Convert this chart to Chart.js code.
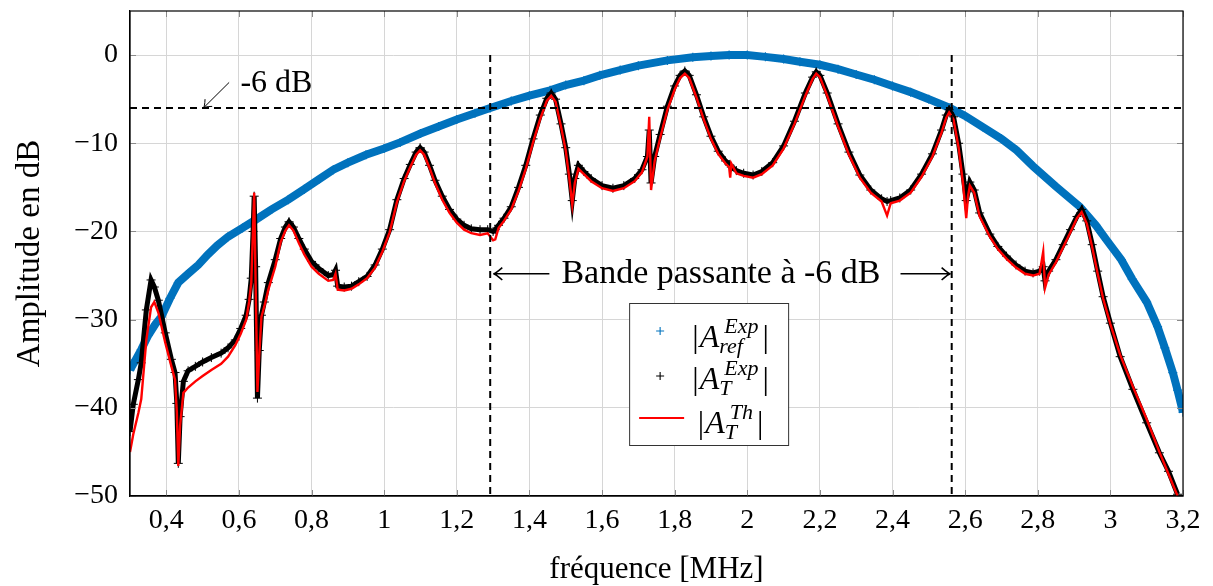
<!DOCTYPE html>
<html>
<head>
<meta charset="utf-8">
<script src="https://cdn.jsdelivr.net/npm/chart.js@4"></script>
<style>
  html, body { margin: 0; padding: 0; background: #fff; }
  canvas { display: block; }
</style>
</head>
<body>
<canvas id="ampChart" width="1213" height="586"></canvas>
<script>
// reference transducer |A_ref^Exp| (blue crosses)
const refFreq = [0.300, 0.315, 0.331, 0.350, 0.370, 0.386, 0.410, 0.433, 0.460, 0.488,
  0.515, 0.540, 0.570, 0.610, 0.645, 0.690, 0.736, 0.780, 0.820, 0.860,
  0.900, 0.950, 1.000, 1.044, 1.100, 1.150, 1.200, 1.250, 1.292, 1.350,
  1.400, 1.457, 1.500, 1.550, 1.594, 1.650, 1.700, 1.780, 1.850, 1.900,
  1.950, 2.000, 2.050, 2.100, 2.145, 2.200, 2.250, 2.300, 2.350, 2.400,
  2.450, 2.500, 2.558, 2.600, 2.650, 2.700, 2.742, 2.787, 2.850, 2.916,
  2.960, 2.990, 3.030, 3.060, 3.100, 3.130, 3.150, 3.172, 3.185, 3.200];
const refAmp = [-35.7, -34.6, -33.4, -31.8, -30.5, -29.7, -27.6, -25.8, -24.8, -23.8,
  -22.6, -21.6, -20.6, -19.6, -18.7, -17.5, -16.4, -15.2, -14.1, -13.0,
  -12.2, -11.3, -10.6, -9.9, -8.9, -8.1, -7.3, -6.6, -6.0, -5.2,
  -4.6, -4.0, -3.4, -2.9, -2.3, -1.7, -1.2, -0.6, -0.25, -0.1,
  0.0, 0.0, -0.2, -0.45, -0.75, -1.1, -1.6, -2.2, -2.8, -3.5,
  -4.2, -5.0, -6.0, -6.9, -8.2, -9.5, -10.8, -12.6, -14.9, -17.2,
  -19.3, -21.0, -23.2, -25.4, -28.0, -30.8, -33.2, -36.0, -38.0, -40.5];

// transmission |A_T^Exp| (black crosses) and |A_T^Th| (red line)
const tFreq = [0.300, 0.309, 0.323, 0.331, 0.345, 0.358, 0.367, 0.378, 0.397, 0.414,
  0.424, 0.429, 0.433, 0.438, 0.447, 0.460, 0.480, 0.500, 0.524, 0.551,
  0.570, 0.590, 0.605, 0.620, 0.628, 0.634, 0.639, 0.642, 0.646, 0.651,
  0.656, 0.662, 0.670, 0.681, 0.700, 0.715, 0.728, 0.738, 0.750, 0.765,
  0.780, 0.800, 0.820, 0.846, 0.860, 0.866, 0.872, 0.890, 0.910, 0.930,
  0.953, 0.975, 0.995, 1.015, 1.035, 1.055, 1.072, 1.088, 1.099, 1.110,
  1.125, 1.140, 1.160, 1.180, 1.200, 1.220, 1.240, 1.264, 1.285, 1.300,
  1.306, 1.315, 1.330, 1.350, 1.370, 1.390, 1.410, 1.430, 1.448, 1.460,
  1.472, 1.487, 1.500, 1.510, 1.518, 1.525, 1.535, 1.550, 1.570, 1.600,
  1.630, 1.660, 1.690, 1.710, 1.725, 1.730, 1.735, 1.745, 1.760, 1.780,
  1.800, 1.815, 1.828, 1.840, 1.860, 1.880, 1.900, 1.920, 1.940, 1.950,
  1.953, 1.956, 1.970, 1.990, 2.016, 2.040, 2.070, 2.100, 2.130, 2.160,
  2.180, 2.190, 2.200, 2.220, 2.250, 2.280, 2.310, 2.340, 2.370, 2.385,
  2.395, 2.420, 2.450, 2.480, 2.510, 2.535, 2.548, 2.556, 2.568, 2.582,
  2.594, 2.603, 2.608, 2.613, 2.625, 2.640, 2.668, 2.690, 2.714, 2.740,
  2.765, 2.787, 2.805, 2.815, 2.820, 2.830, 2.850, 2.870, 2.890, 2.908,
  2.921, 2.935, 2.950, 2.965, 2.980, 3.000, 3.027, 3.062, 3.100, 3.135,
  3.160, 3.185];
const expAmp = [-42.7, -39.6, -36.8, -34.9, -28.9, -25.5, -26.3, -27.8, -31.5, -34.5,
  -36.0, -39.5, -46.3, -41.0, -37.0, -35.8, -35.3, -34.8, -34.3, -33.8,
  -33.2, -32.3, -31.0, -29.5, -27.7, -25.3, -20.0, -16.0, -24.0, -38.9,
  -33.5, -29.5, -28.0, -25.8, -23.2, -20.8, -19.5, -18.9, -19.5, -20.8,
  -22.0, -23.4, -24.2, -25.0, -24.9, -24.4, -26.2, -26.3, -26.2, -25.7,
  -25.1, -23.8, -22.0, -19.8, -16.4, -14.0, -12.4, -11.0, -10.5, -11.0,
  -12.5, -14.2, -16.0, -17.5, -18.6, -19.3, -19.7, -19.8, -19.8, -20.0,
  -19.8, -19.3, -18.5, -17.2, -15.0, -12.5, -9.5, -6.8, -4.9, -4.3,
  -5.0, -7.8, -10.5, -13.5, -16.5, -14.0, -12.5, -13.2, -14.0, -14.8,
  -15.1, -14.8, -14.0, -13.0, -11.5, -8.5, -14.5, -11.5, -9.0, -5.8,
  -3.5, -2.3, -1.8, -2.3, -4.5, -7.0, -9.2, -10.9, -12.0, -12.4,
  -12.5, -12.7, -13.1, -13.4, -13.6, -13.2, -12.2, -10.3, -7.5, -4.3,
  -2.5, -1.9, -2.3, -4.3, -7.8, -11.0, -13.6, -15.3, -16.3, -16.6,
  -16.5, -16.2, -15.3, -13.5, -11.2, -8.5, -6.8, -6.2, -7.0, -10.0,
  -13.5, -16.5, -15.5, -14.4, -15.3, -17.9, -20.3, -21.7, -22.8, -23.8,
  -24.5, -24.7, -24.5, -24.0, -25.6, -24.5, -23.2, -21.5, -19.8, -18.3,
  -17.5, -18.8, -21.5, -24.5, -27.4, -30.4, -34.2, -37.9, -41.7, -45.1,
  -47.2, -49.8];
const thAmp = [-45.0, -43.0, -40.6, -39.0, -32.3, -28.6, -28.0, -29.2, -32.6, -35.3,
  -36.8, -40.5, -46.6, -42.0, -38.3, -37.7, -37.0, -36.4, -35.7, -35.0,
  -34.2, -32.9, -31.6, -30.0, -28.0, -25.8, -19.5, -15.6, -26.0, -38.2,
  -34.0, -29.7, -28.5, -26.6, -24.0, -21.2, -19.9, -19.3, -19.9, -21.3,
  -22.6, -24.0, -24.8, -25.6, -25.5, -24.8, -26.6, -26.7, -26.5, -26.0,
  -25.3, -24.1, -22.3, -20.1, -16.7, -14.3, -12.7, -11.3, -10.8, -11.3,
  -12.8, -14.5, -16.4, -17.9, -19.0, -19.8, -20.2, -20.4, -20.2, -21.0,
  -20.9, -19.6, -18.8, -17.5, -15.4, -12.9, -9.9, -7.2, -5.2, -4.6,
  -5.3, -8.1, -10.8, -14.0, -17.0, -14.5, -12.9, -13.5, -14.3, -15.1,
  -15.4, -15.1, -14.3, -13.3, -11.5, -7.0, -15.3, -12.0, -9.4, -6.2,
  -3.9, -2.6, -2.1, -2.6, -4.8, -7.3, -9.5, -11.2, -12.3, -12.7,
  -13.9, -12.3, -13.4, -13.7, -13.9, -13.5, -12.5, -10.6, -7.8, -4.6,
  -2.7, -2.1, -2.5, -4.6, -8.1, -11.3, -13.9, -15.6, -16.6, -18.2,
  -16.8, -16.5, -15.6, -13.8, -11.5, -8.8, -7.1, -6.5, -7.3, -10.5,
  -14.5, -18.5, -16.0, -14.8, -15.6, -18.3, -20.6, -22.0, -23.1, -24.1,
  -24.8, -25.0, -24.8, -22.3, -26.4, -24.9, -23.5, -21.8, -20.1, -18.5,
  -17.8, -19.1, -21.8, -24.8, -27.6, -30.5, -34.0, -37.6, -41.3, -45.0,
  -47.5, -50.0];

// -6 dB level and the two band edges
const level = -6;
const bandEdges = [1.292, 2.563];

const xTicks = [0.4, 0.6, 0.8, 1, 1.2, 1.4, 1.6, 1.8, 2, 2.2, 2.4, 2.6, 2.8, 3, 3.2];
const yTicks = [-50, -40, -30, -20, -10, 0];

const serif = "'Liberation Serif', 'Times New Roman', serif";
const blue = '#0072bd';

const toPoints = (xs, ys) => xs.map((x, i) => ({x: x, y: ys[i]}));

function arrow(ctx, x1, y1, x2, y2, head) {
  const ang = Math.atan2(y2 - y1, x2 - x1);
  ctx.beginPath();
  ctx.moveTo(x1, y1);
  ctx.lineTo(x2, y2);
  ctx.moveTo(x2 - head * Math.cos(ang - 0.6), y2 - head * Math.sin(ang - 0.6));
  ctx.quadraticCurveTo(x2 - 2 * Math.cos(ang), y2 - 2 * Math.sin(ang), x2, y2);
  ctx.quadraticCurveTo(x2 - 2 * Math.cos(ang), y2 - 2 * Math.sin(ang),
                       x2 - head * Math.cos(ang + 0.6), y2 - head * Math.sin(ang + 0.6));
  ctx.stroke();
}

// |A^sup_sub| drawn with a real super/subscript
function mathLabel(ctx, cx, base, sup, sub) {
  const big = '32px ' + serif, bigIt = 'italic 32px ' + serif, small = 'italic 22px ' + serif;
  ctx.font = big; const wBar = ctx.measureText('|').width;
  ctx.font = bigIt; const wA = ctx.measureText('A').width;
  ctx.font = small;
  const wSup = ctx.measureText(sup).width, wSub = ctx.measureText(sub).width;
  const wScr = Math.max(wSup + 5, wSub);
  let x = cx - (2 * wBar + wA + wScr + 6) / 2;
  ctx.textAlign = 'left';
  ctx.textBaseline = 'alphabetic';
  ctx.font = big; ctx.fillText('|', x, base); x += wBar + 1;
  ctx.font = bigIt; ctx.fillText('A', x, base); x += wA;
  ctx.font = small;
  ctx.fillText(sup, x + 5, base - 14);
  ctx.fillText(sub, x, base + 6);
  x += wScr + 4;
  ctx.font = big; ctx.fillText('|', x, base);
}

const decorPlugin = {
  id: 'decor',
  afterDraw(chart) {
    const ctx = chart.ctx, a = chart.chartArea;
    const xs = chart.scales.x, ys = chart.scales.y;
    ctx.save();

    // small inner tick marks
    ctx.strokeStyle = '#8a8a8a';
    ctx.lineWidth = 1;
    ctx.beginPath();
    xTicks.forEach(v => {
      const p = Math.round(xs.getPixelForValue(v)) + 0.5;
      ctx.moveTo(p, a.bottom); ctx.lineTo(p, a.bottom - 6);
      ctx.moveTo(p, a.top); ctx.lineTo(p, a.top + 6);
    });
    yTicks.forEach(v => {
      const p = Math.round(ys.getPixelForValue(v)) + 0.5;
      ctx.moveTo(a.left, p); ctx.lineTo(a.left + 6, p);
      ctx.moveTo(a.right, p); ctx.lineTo(a.right - 6, p);
    });
    ctx.stroke();

    // axis box
    ctx.strokeStyle = '#000';
    ctx.lineWidth = 1.2;
    ctx.strokeRect(a.left, a.top, a.right - a.left, a.bottom - a.top);

    // "-6 dB" note
    ctx.fillStyle = '#000';
    ctx.lineWidth = 1;
    arrow(ctx, xs.getPixelForValue(0.573), ys.getPixelForValue(-3.1),
               xs.getPixelForValue(0.502), ys.getPixelForValue(level), 9);
    ctx.font = '32px ' + serif;
    ctx.textAlign = 'left';
    ctx.textBaseline = 'middle';
    ctx.fillText('-6 dB', xs.getPixelForValue(0.604), ys.getPixelForValue(-3.2));

    // band width note
    const bx1 = xs.getPixelForValue(bandEdges[0]), bx2 = xs.getPixelForValue(bandEdges[1]);
    const by = ys.getPixelForValue(-24.8);
    const txt = 'Bande passante à -6 dB';
    ctx.font = '34px ' + serif;
    const tw = ctx.measureText(txt).width;
    const tx = (bx1 + bx2) / 2 - tw / 2;
    ctx.fillText(txt, tx, by);
    ctx.lineWidth = 1.6;
    arrow(ctx, tx - 12, by, bx1 + 3, by, 11);
    arrow(ctx, tx + tw + 20, by, bx2 - 1, by, 11);

    // legend
    const lw = 159, lh = 142;
    const lx = a.left + 0.474 * (a.right - a.left);
    const ly = a.bottom - 51 - lh;
    ctx.fillStyle = '#fff';
    ctx.fillRect(lx, ly, lw, lh);
    ctx.strokeStyle = '#333';
    ctx.lineWidth = 1;
    ctx.strokeRect(lx + 0.5, ly + 0.5, lw, lh);

    const mx = lx + 31;
    ctx.lineWidth = 1.1;
    ctx.strokeStyle = blue;
    ctx.beginPath();
    ctx.moveTo(mx - 4, ly + 28); ctx.lineTo(mx + 4, ly + 28);
    ctx.moveTo(mx, ly + 24); ctx.lineTo(mx, ly + 32);
    ctx.stroke();
    ctx.strokeStyle = '#000';
    ctx.beginPath();
    ctx.moveTo(mx - 4, ly + 73); ctx.lineTo(mx + 4, ly + 73);
    ctx.moveTo(mx, ly + 69); ctx.lineTo(mx, ly + 77);
    ctx.stroke();
    ctx.strokeStyle = '#ff0000';
    ctx.lineWidth = 2.2;
    ctx.beginPath();
    ctx.moveTo(lx + 10, ly + 115); ctx.lineTo(lx + 55, ly + 115);
    ctx.stroke();

    ctx.fillStyle = '#000';
    mathLabel(ctx, lx + 102, ly + 44, 'Exp', 'ref');
    mathLabel(ctx, lx + 102, ly + 86, 'Exp', 'T');
    mathLabel(ctx, lx + 102, ly + 130, 'Th', 'T');
    ctx.restore();
  }
};

const dashed = { showLine: true, borderColor: '#000', borderWidth: 2, borderDash: [7, 5], pointRadius: 0, order: 0 };

new Chart(document.getElementById('ampChart'), {
  type: 'scatter',
  data: {
    datasets: [
      Object.assign({ label: '-6 dB', data: [{x: 0.3, y: level}, {x: 3.2, y: level}] }, dashed),
      Object.assign({ label: 'low edge', data: [{x: bandEdges[0], y: 0}, {x: bandEdges[0], y: -50}] }, dashed),
      Object.assign({ label: 'high edge', data: [{x: bandEdges[1], y: 0}, {x: bandEdges[1], y: -50}] }, dashed),
      {
        label: '|A_T^Th|',
        data: toPoints(tFreq, thAmp),
        showLine: true, borderColor: '#ff0000', borderWidth: 2.4,
        pointRadius: 0, order: 1
      },
      {
        label: '|A_T^Exp|',
        data: toPoints(tFreq, expAmp),
        showLine: true, borderColor: '#000', borderWidth: 5,
        pointStyle: 'cross', pointRadius: 4.5, pointBorderColor: '#000', pointBorderWidth: 1,
        order: 2
      },
      {
        label: '|A_ref^Exp|',
        data: toPoints(refFreq, refAmp),
        showLine: true, borderColor: blue, borderWidth: 8,
        pointStyle: 'cross', pointRadius: 4.5, pointBorderColor: blue, pointBorderWidth: 1.2,
        order: 3
      }
    ]
  },
  options: {
    responsive: false,
    animation: false,
    devicePixelRatio: 1,
    layout: { padding: { top: 11, right: 30, left: 0, bottom: 0 } },
    plugins: { legend: { display: false }, tooltip: { enabled: false } },
    scales: {
      x: {
        type: 'linear', min: 0.3, max: 3.2,
        afterBuildTicks: s => { s.ticks = xTicks.map(v => ({value: v})); },
        afterFit: s => { s.height = 90; s.paddingLeft = 0; s.paddingRight = 0; },
        ticks: {
          callback: v => String(Math.round(v * 10) / 10).replace('.', ','),
          font: { family: serif, size: 28 }, color: '#000', padding: 8,
          maxRotation: 0, autoSkip: false
        },
        grid: { color: '#d6d6d6', lineWidth: 1, drawTicks: false },
        border: { color: '#000', width: 1.2 },
        title: {
          display: true, text: 'fréquence [MHz]', color: '#000',
          font: { family: serif, size: 31, lineHeight: 1 }, padding: { top: 0, bottom: 1 }
        }
      },
      y: {
        min: -50, max: 5,
        afterBuildTicks: s => { s.ticks = yTicks.map(v => ({value: v})); },
        afterFit: s => { s.width = 130; s.paddingTop = 0; s.paddingBottom = 0; },
        ticks: {
          callback: v => v < 0 ? '\u2212' + Math.abs(v) : String(v),
          font: { family: serif, size: 28 }, color: '#000', padding: 12
        },
        grid: { color: '#d6d6d6', lineWidth: 1, drawTicks: false },
        border: { color: '#000', width: 1.2 },
        title: {
          display: true, text: 'Amplitude en dB', color: '#000',
          font: { family: serif, size: 33, lineHeight: 1 }, padding: { top: 14, bottom: 0 }
        }
      }
    }
  },
  plugins: [decorPlugin]
});
</script>
</body>
</html>
